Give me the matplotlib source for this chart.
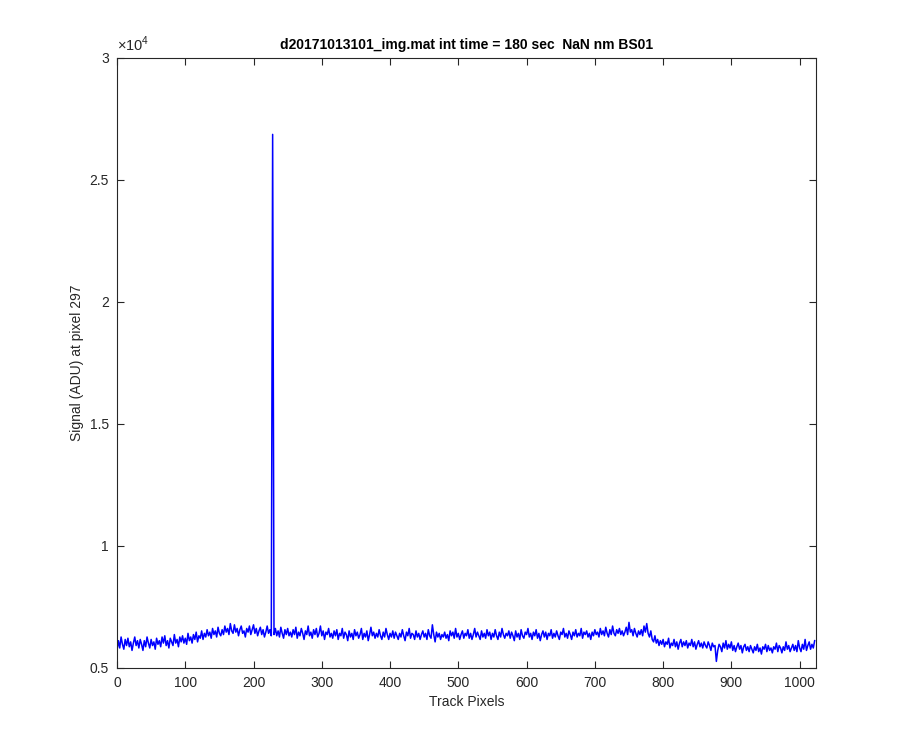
import matplotlib
matplotlib.use("Agg")
import matplotlib.pyplot as plt

# track pixel positions (every 2nd pixel) and signal at pixel 297
track = list(range(0, 1024, 2))
signal = [
    5700, 6100, 5800, 6250, 5950, 5750, 6150, 5900, 6200, 5850, 6050, 5700, 6000, 6250, 5900, 6100,
    5800, 6150, 5950, 5700, 6100, 5850, 6250, 6000, 5800, 6150, 5900, 6050, 5750, 6200, 5950, 6100,
    5850, 6250, 6000, 6300, 5900, 6100, 5800, 6200, 6050, 5900, 6350, 6000, 6150, 5850, 6250, 6050,
    6300, 6000, 6200, 5950, 6400, 6100, 6250, 6000, 6350, 6150, 6450, 6050, 6300, 6200, 6500, 6150,
    6400, 6250, 6550, 6300, 6450, 6200, 6600, 6350, 6500, 6250, 6650, 6400, 6300, 6550, 6350, 6700,
    6450, 6600, 6350, 6800, 6500, 6400, 6750, 6450, 6600, 6300, 6550, 6700, 6400, 6500, 6250, 6600,
    6450, 6700, 6350, 6550, 6750, 6400, 6600, 6300, 6500, 6650, 6350, 6550, 6250, 6450, 6700, 6400,
    6550, 6300, 26850, 6350, 6600, 6300, 6500, 6250, 6650, 6400, 6200, 6550, 6350, 6600, 6300, 6450,
    6250, 6550, 6350, 6650, 6200, 6450, 6300, 6600, 6400, 6150, 6500, 6350, 6700, 6300, 6450, 6200,
    6550, 6350, 6600, 6250, 6400, 6700, 6300, 6500, 6150, 6450, 6350, 6600, 6250, 6400, 6200, 6500,
    6300, 6550, 6150, 6400, 6300, 6600, 6200, 6450, 6350, 6100, 6500, 6250, 6400, 6150, 6550, 6300,
    6450, 6200, 6350, 6600, 6150, 6400, 6250, 6500, 6100, 6350, 6650, 6300, 6450, 6200, 6400, 6250,
    6550, 6300, 6150, 6450, 6250, 6600, 6350, 6150, 6400, 6250, 6500, 6200, 6450, 6300, 6150, 6400,
    6250, 6550, 6300, 6100, 6450, 6300, 6600, 6200, 6400, 6350, 6150, 6500, 6250, 6400, 6150, 6350,
    6500, 6250, 6400, 6150, 6550, 6300, 6200, 6750, 6350, 6050, 6450, 6250, 6400, 6150, 6350, 6250,
    6450, 6200, 6350, 6100, 6500, 6300, 6450, 6200, 6600, 6250, 6400, 6150, 6350, 6500, 6200, 6400,
    6300, 6550, 6200, 6400, 6150, 6350, 6600, 6250, 6450, 6300, 6150, 6500, 6250, 6400, 6200, 6550,
    6300, 6450, 6150, 6400, 6250, 6550, 6300, 6150, 6450, 6250, 6600, 6350, 6200, 6400, 6300, 6500,
    6200, 6450, 6300, 6100, 6500, 6250, 6400, 6150, 6550, 6300, 6200, 6450, 6350, 6600, 6250, 6400,
    6150, 6450, 6300, 6550, 6200, 6400, 6100, 6350, 6500, 6250, 6450, 6150, 6400, 6300, 6550, 6200,
    6400, 6250, 6500, 6300, 6150, 6450, 6350, 6600, 6250, 6400, 6200, 6500, 6350, 6150, 6450, 6300,
    6550, 6250, 6400, 6300, 6600, 6200, 6450, 6350, 6500, 6250, 6400, 6150, 6450, 6300, 6550, 6350,
    6450, 6250, 6600, 6350, 6500, 6300, 6650, 6400, 6250, 6550, 6350, 6700, 6400, 6300, 6550, 6400,
    6600, 6350, 6500, 6300, 6450, 6650, 6350, 6850, 6450, 6550, 6300, 6600, 6400, 6250, 6500, 6350,
    6550, 6300, 6700, 6450, 6800, 6400, 6250, 6500, 6150, 6050, 6300, 6000, 6150, 5900, 6100, 5950,
    6150, 5850, 6050, 5950, 6200, 5800, 6000, 5900, 6150, 5850, 6050, 5750, 6000, 6150, 5850, 6050,
    5900, 6100, 5800, 6000, 5900, 6150, 5850, 6050, 5750, 5950, 6100, 5850, 6000, 5800, 6050, 5900,
    5800, 6050, 5900, 5700, 6000, 5850, 5900, 5250, 5700, 5950, 5850, 5650, 6000, 5800, 6100, 5750,
    5950, 5800, 6050, 5700, 5900, 5650, 5850, 6000, 5750, 5900, 5600, 5850, 5950, 5700, 5850, 5650,
    5900, 5750, 5600, 5850, 5700, 5950, 5650, 5800, 5550, 5850, 5750, 5950, 5650, 5900, 5700, 5800,
    5600, 5850, 5750, 6000, 5650, 5900, 5800, 5600, 5850, 5700, 6050, 5750, 5900, 5650, 5800, 5950,
    5700, 5900, 5650, 6100, 5800, 5650, 5950, 5750, 6150, 5700, 5900, 6050, 5750, 5950, 5800, 6100,
]
xticks = [0, 100, 200, 300, 400, 500, 600, 700, 800, 900, 1000]
yticks = [5000, 10000, 15000, 20000, 25000, 30000]
ytick_labels = ["0.5", "1", "1.5", "2", "2.5", "3"]

plt.rcParams["font.family"] = ["Liberation Sans", "DejaVu Sans"]
plt.rcParams["mathtext.fontset"] = "custom"
plt.rcParams["mathtext.rm"] = "Liberation Sans"

grey = (0.15, 0.15, 0.15)
fig = plt.figure(figsize=(9, 7.5), dpi=100)
ax = fig.add_axes([0.13, 0.11, 0.7767, 0.8133])

ax.plot(track, signal, color=(0, 0, 1), lw=1.1)

ax.set_xlim(0, 1024)
ax.set_ylim(5000, 30000)
ax.set_xticks(xticks)
ax.set_yticks(yticks)
ax.set_yticklabels(ytick_labels)
ax.tick_params(direction="in", top=True, right=True, length=5, width=0.8,
               colors=grey, labelsize=10, pad=6)
for s in ax.spines.values():
    s.set_color(grey)
    s.set_linewidth(0.8)

ax.text(0, 1.006, r"$\times10^{4}$", transform=ax.transAxes, fontsize=10.5,
        color=grey, ha="left", va="bottom")
ax.set_title("d20171013101_img.mat int time = 180 sec  NaN nm BS01",
             fontsize=10, fontweight="bold", pad=6)
ax.set_xlabel("Track Pixels", fontsize=10, color=grey)
ax.set_ylabel("Signal (ADU) at pixel 297", fontsize=10, color=grey)

fig.savefig("out.png")
